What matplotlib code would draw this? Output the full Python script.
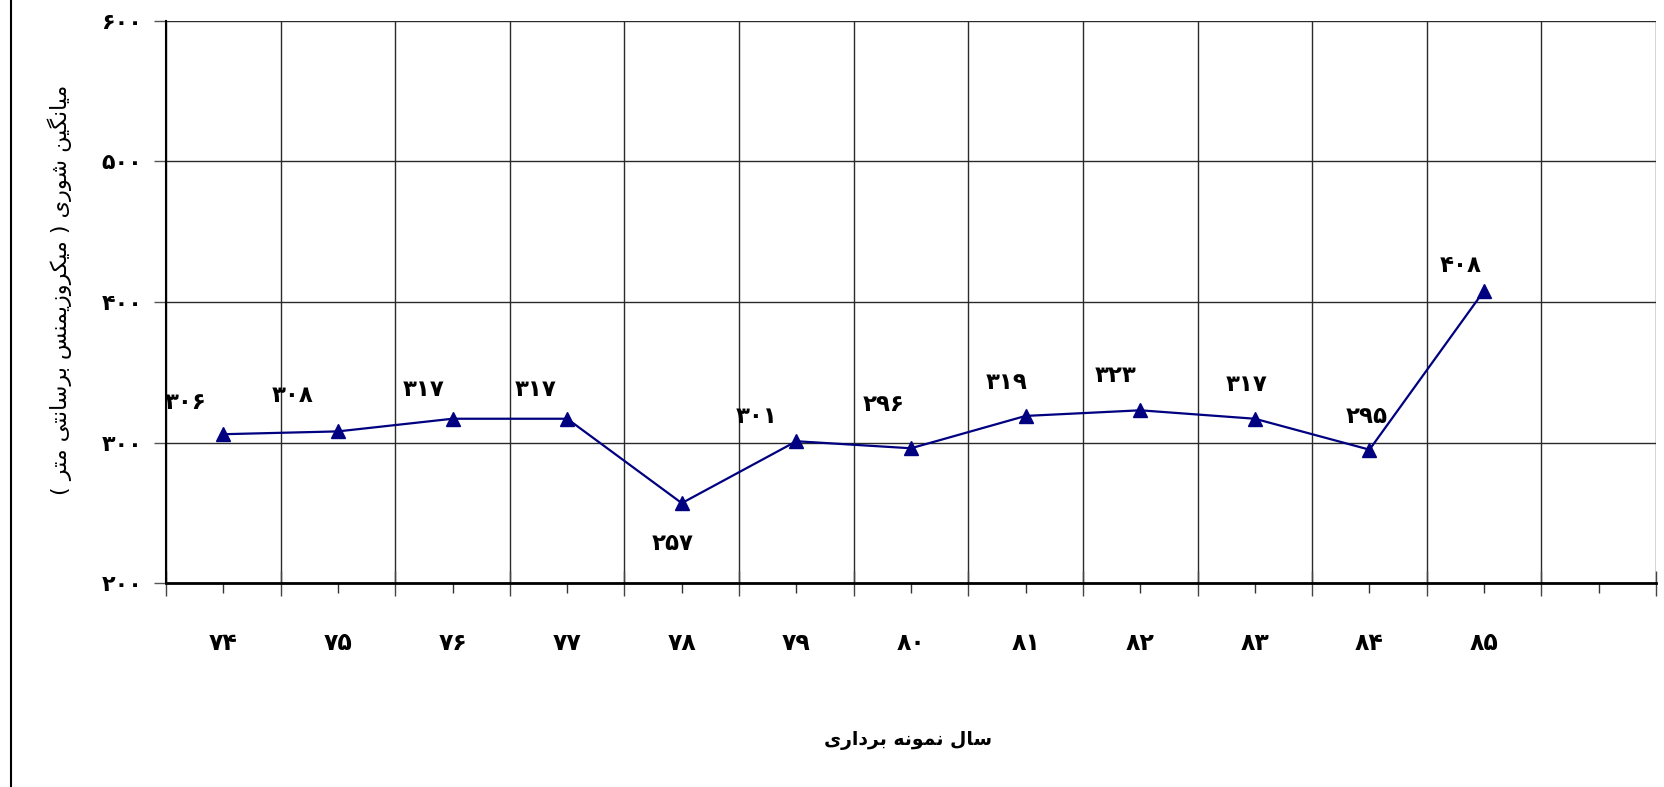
import numpy as np
import matplotlib
matplotlib.use("Agg")
import matplotlib.pyplot as plt
from matplotlib.font_manager import FontProperties, findfont
from matplotlib.ft2font import FT2Font
from matplotlib.lines import Line2D

# ---------------- data ----------------
years = ["۷۴", "۷۵", "۷۶", "۷۷", "۷۸", "۷۹", "۸۰", "۸۱", "۸۲", "۸۳", "۸۴", "۸۵", ""]
values = [306, 308, 317, 317, 257, 301, 296, 319, 323, 317, 295, 408]
value_labels = ["۳۰۶", "۳۰۸", "۳۱۷", "۳۱۷", "۲۵۷", "۳۰۱", "۲۹۶", "۳۱۹", "۳۲۳", "۳۱۷", "۲۹۵", "۴۰۸"]
yticks = [200, 300, 400, 500, 600]
ytick_labels = ["۲۰۰", "۳۰۰", "۴۰۰", "۵۰۰", "۶۰۰"]
xlabel_text = "سال نمونه برداری"
ylabel_text = "میانگین شوری ( میکروزیمنس برسانتی متر )"

# label offsets in pixels (dx, dy) relative to the point (style only)
label_offsets = [(-38, 32), (-45, 36), (-29, 29), (-32, 29), (-9, -40), (-40, 25),
                 (-27, 44), (-19, 33), (-25, 35), (-8, 34), (-3, 33), (-23, 25)]

# ---------------- minimal Persian shaping ----------------
FORMS = {
    'ا': ('\uFE8D', '\uFE8E', None, None),
    'ب': ('\uFE8F', '\uFE90', '\uFE91', '\uFE92'),
    'ت': ('\uFE95', '\uFE96', '\uFE97', '\uFE98'),
    'د': ('\uFEA9', '\uFEAA', None, None),
    'ر': ('\uFEAD', '\uFEAE', None, None),
    'ز': ('\uFEAF', '\uFEB0', None, None),
    'س': ('\uFEB1', '\uFEB2', '\uFEB3', '\uFEB4'),
    'ش': ('\uFEB5', '\uFEB6', '\uFEB7', '\uFEB8'),
    'ل': ('\uFEDD', '\uFEDE', '\uFEDF', '\uFEE0'),
    'م': ('\uFEE1', '\uFEE2', '\uFEE3', '\uFEE4'),
    'ن': ('\uFEE5', '\uFEE6', '\uFEE7', '\uFEE8'),
    'ه': ('\uFEE9', '\uFEEA', '\uFEEB', '\uFEEC'),
    'و': ('\uFEED', '\uFEEE', None, None),
    'ی': ('\uFBFC', '\uFBFD', '\uFBFE', '\uFBFF'),
    'ک': ('\uFB8E', '\uFB8F', '\uFB90', '\uFB91'),
    'گ': ('\uFB92', '\uFB93', '\uFB94', '\uFB95'),
}
MIRROR = {'(': ')', ')': '('}


def shape(text):
    out = []
    for i, ch in enumerate(text):
        if ch not in FORMS:
            out.append(ch)
            continue
        prev = text[i - 1] if i > 0 else None
        nxt = text[i + 1] if i + 1 < len(text) else None
        iso, fin, ini, med = FORMS[ch]
        jp = prev in FORMS and FORMS[prev][2] is not None
        jn = ini is not None and nxt in FORMS
        if jp and jn:
            out.append(med)
        elif jp:
            out.append(fin)
        elif jn:
            out.append(ini)
        else:
            out.append(iso)
    return ''.join(MIRROR.get(c, c) for c in reversed(out))


def has_glyphs(weight, chars):
    path = findfont(FontProperties(family='DejaVu Sans', weight=weight))
    f = FT2Font(path)
    return all(f.get_char_index(ord(c)) != 0 for c in chars)


shaped_x = shape(xlabel_text)
shaped_y = shape(ylabel_text)
bold_ok = has_glyphs('bold', shaped_x + shaped_y + ''.join(value_labels))
W_BOLD = 'bold' if bold_ok else 'normal'

plt.rcParams['font.family'] = ['DejaVu Sans']

# ---------------- figure ----------------
fig = plt.figure(figsize=(16.64, 7.87), dpi=100)
ax = fig.add_axes([166 / 1664, 1 - 583.3 / 787, (1656 - 166) / 1664, (583.3 - 20.7) / 787])

x = np.arange(len(values))
ax.plot(x, values, color='#000080', lw=1.6, marker='^', ms=10,
        markerfacecolor='#000080', markeredgecolor='#000080', zorder=3)

ax.set_xlim(-0.5, len(years) - 0.5)
ax.set_ylim(yticks[0], yticks[-1])

# y axis
ax.set_yticks(yticks)
ax.set_yticklabels(ytick_labels, fontsize=16, fontweight=W_BOLD)
ax.tick_params(axis='y', which='major', length=9, width=1.0, pad=8, color='#555555')

# x axis: major ticks at category boundaries (gridlines), minor at centers (labels)
ax.set_xticks(np.arange(len(years) + 1) - 0.5)
ax.set_xticklabels([])
ax.set_xticks(np.arange(len(years)), minor=True)
ax.set_xticklabels(years, minor=True, fontsize=17, fontweight=W_BOLD)
ax.tick_params(axis='x', which='major', direction='inout', length=18, width=1.0, color='#444444')
ax.tick_params(axis='x', which='minor', direction='out', length=7, width=1.0, pad=27, color='#333333')

ax.grid(True, which='major', axis='both', color='#2a2a2a', lw=1.0)
ax.set_axisbelow(True)

for s in ['top', 'right']:
    ax.spines[s].set_visible(False)
ax.spines['left'].set_color('black')
ax.spines['left'].set_linewidth(1.5)
ax.spines['bottom'].set_color('black')
ax.spines['bottom'].set_linewidth(2.0)

# data labels
for xi, v, lab, (dx, dy) in zip(x, values, value_labels, label_offsets):
    ax.annotate(lab, (xi, v), xytext=(dx * 0.72, dy * 0.72), textcoords='offset points',
                ha='center', va='center', fontsize=16.5, fontweight=W_BOLD, color='black')

# axis titles
fig.text(908 / 1664, 1 - 740 / 787, shaped_x, ha='center', va='center',
         fontsize=13.5, fontweight=W_BOLD)
fig.text(60 / 1664, 1 - 290 / 787, shaped_y, ha='center', va='center',
         rotation=90, fontsize=16, fontweight='normal')

# chart-area border on the left
fig.add_artist(Line2D([11 / 1664, 11 / 1664], [0, 1], transform=fig.transFigure,
                      color='black', lw=1.5))

fig.savefig('out.png', dpi=100)
